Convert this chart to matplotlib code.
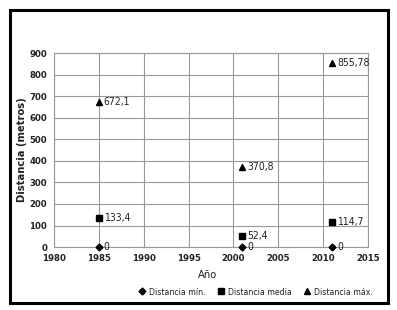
import matplotlib
matplotlib.use('Agg')
import matplotlib.pyplot as plt
from matplotlib.patches import Rectangle

plt.rcParams['font.family'] = ['DejaVu Sans']
plt.rcParams['font.stretch'] = 'condensed'

# data
years = [1985, 2001, 2011]
dist_min = [0, 0, 0]
dist_media = [133.4, 52.4, 114.7]
dist_max = [672.1, 370.8, 855.78]
lbl_min = ['0', '0', '0']
lbl_media = ['133,4', '52,4', '114,7']
lbl_max = ['672,1', '370,8', '855,78']
xticks = [1980, 1985, 1990, 1995, 2000, 2005, 2010, 2015]
yticks = [0, 100, 200, 300, 400, 500, 600, 700, 800, 900]

fig = plt.figure(figsize=(3.97, 3.10), dpi=100)
ax = fig.add_axes([0.136, 0.203, 0.791, 0.626])

txt = '#222222'
ax.plot(years, dist_min, 'D', color='black', ms=3.5, ls='none', label='Distancia mín.', clip_on=False, zorder=3)
ax.plot(years, dist_media, 's', color='black', ms=5, ls='none', label='Distancia media', clip_on=False, zorder=3)
ax.plot(years, dist_max, '^', color='black', ms=4, ls='none', label='Distancia máx.', clip_on=False, zorder=3)

for xs, ys, ls_ in [(years, dist_min, lbl_min), (years, dist_media, lbl_media), (years, dist_max, lbl_max)]:
    for x, y, s in zip(xs, ys, ls_):
        ax.annotate(s, (x, y), xytext=(3.5, 0), textcoords='offset points',
                    va='center', ha='left', fontsize=7.5, color=txt)

ax.set_xlim(1980, 2015)
ax.set_ylim(0, 900)
ax.set_xticks(xticks)
ax.set_yticks(yticks)
ax.grid(True, color='#999999', lw=0.8)
ax.set_axisbelow(True)
for sp in ax.spines.values():
    sp.set_color('#999999')
    sp.set_linewidth(0.8)
ax.tick_params(length=0, labelsize=6.8, labelcolor=txt, pad=5)
for lab in ax.get_xticklabels() + ax.get_yticklabels():
    lab.set_fontweight('bold')
ax.set_xlabel('Año', fontsize=8, color=txt)
ax.set_ylabel('Distancia (metros)', fontsize=8, color=txt, fontweight='bold')
ax.xaxis.set_label_coords(0.49, -0.12)
ax.yaxis.set_label_coords(-0.085, 0.5)

fig.legend(loc='center right', bbox_to_anchor=(0.958, 0.058), ncol=3, frameon=False,
           fontsize=6.3, handletextpad=0.3, columnspacing=1.2, handlelength=1,
           labelcolor=txt)

fig.patches.append(Rectangle((10 / 397, 1 - 303 / 310), 378 / 397, 293 / 310,
                             transform=fig.transFigure, fill=False,
                             edgecolor='black', lw=2.2))

fig.savefig('out.png', dpi=100)
